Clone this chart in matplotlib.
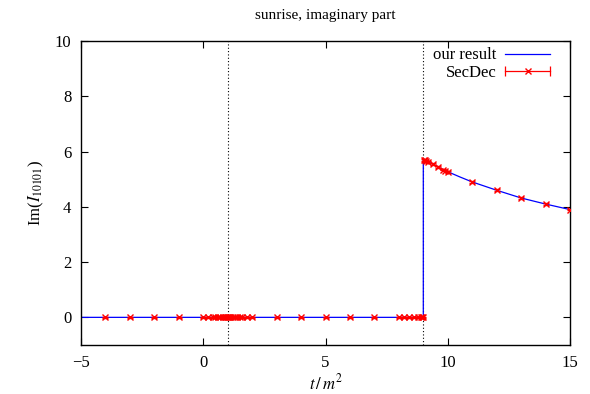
import numpy as np
import matplotlib
matplotlib.use('Agg')
import matplotlib.pyplot as plt
from matplotlib.lines import Line2D
from matplotlib.legend_handler import HandlerLine2D, HandlerTuple

plt.rcParams['font.family'] = 'Liberation Serif'
plt.rcParams['mathtext.fontset'] = 'stix'

# curve "our result"
curve_x = [-5, 9, 9, 9.2, 9.4, 9.6, 9.8, 10, 10.5, 11, 11.5, 12, 12.5, 13, 13.5, 14, 14.5, 15]
curve_y = [0, 0, 5.70, 5.63, 5.54, 5.45, 5.35, 5.27, 5.08, 4.90, 4.75, 4.60, 4.46, 4.32, 4.21, 4.10, 4.00, 3.90]

# SecDec points
sd_x = [-4, -3, -2, -1, 0, 0.2, 0.4, 0.5, 0.6, 0.7, 0.8, 0.9, 0.95, 0.99, 1.01, 1.05, 1.1,
        1.2, 1.3, 1.4, 1.5, 1.6, 1.8, 2, 3, 4, 5, 6, 7, 8, 8.2, 8.4, 8.6, 8.8, 8.9, 8.95, 8.99,
        9.01, 9.05, 9.1, 9.2, 9.4, 9.6, 9.8, 9.9, 10, 11, 12, 13, 14, 15]
sd_y = [0] * 37 + [5.69, 5.68, 5.66, 5.63, 5.54, 5.45, 5.35, 5.31, 5.27, 4.90, 4.60, 4.32, 4.10, 3.90]
sd_err = [0.03] * len(sd_x)

fig = plt.figure(figsize=(5.9, 3.94), dpi=100)
ax = fig.add_axes([0.1373, 0.1244, 0.8288, 0.7715])

ax.axvline(1, color='black', ls=(0, (1, 2)), lw=0.8)
ax.axvline(9, color='black', ls=(0, (1, 2)), lw=0.8)

ax.plot(curve_x, curve_y, color='blue', lw=0.9, zorder=2)
ax.errorbar(sd_x, sd_y, yerr=sd_err, fmt='x', color='red', ms=4.5, mew=1.0,
            elinewidth=0.8, capsize=2, zorder=3)

ax.set_xlim(-5, 15)
ax.set_ylim(-1, 10)
ax.set_xticks([-5, 0, 5, 10, 15])
ax.set_xticklabels(['\u22125', '0', '5', '10', '15'])
ax.set_yticks([0, 2, 4, 6, 8, 10])
ax.tick_params(direction='in', top=True, right=True, length=5, width=0.8,
               labelsize=12, pad=7)
for s in ax.spines.values():
    s.set_linewidth(1.0)

ax.set_title('sunrise, imaginary part', fontsize=11, pad=16)
ax.set_xlabel('$t\\,/\\,m^2$', fontsize=12, labelpad=2)
ax.set_ylabel('Im($I_{10101}$)', fontsize=12, labelpad=6)

# legend in gnuplot style
h1 = Line2D([], [], color='blue', lw=0.9)
caps = Line2D([], [], color='red', lw=0.9, marker='|', ms=7, mew=0.9)
cross = Line2D([], [], color='red', lw=0, marker='x', ms=4.5, mew=1.0)
leg = ax.legend([h1, (caps, cross)], ['our result', 'SecDec'],
                handler_map={caps: HandlerLine2D(numpoints=2, marker_pad=0),
                             cross: HandlerLine2D(numpoints=1),
                             tuple: HandlerTuple(ndivide=1)},
                loc='upper right', bbox_to_anchor=(1 - 17 / 489, 1 - 3 / 304),
                frameon=False, markerfirst=False, borderpad=0.2,
                fontsize=12, handlelength=2.65, handletextpad=0.55,
                labelspacing=0.1, borderaxespad=0)
for t in leg.get_texts():
    t.set_ha('right')
leg._legend_box.align = 'right'

fig.savefig('out.png', dpi=100)
